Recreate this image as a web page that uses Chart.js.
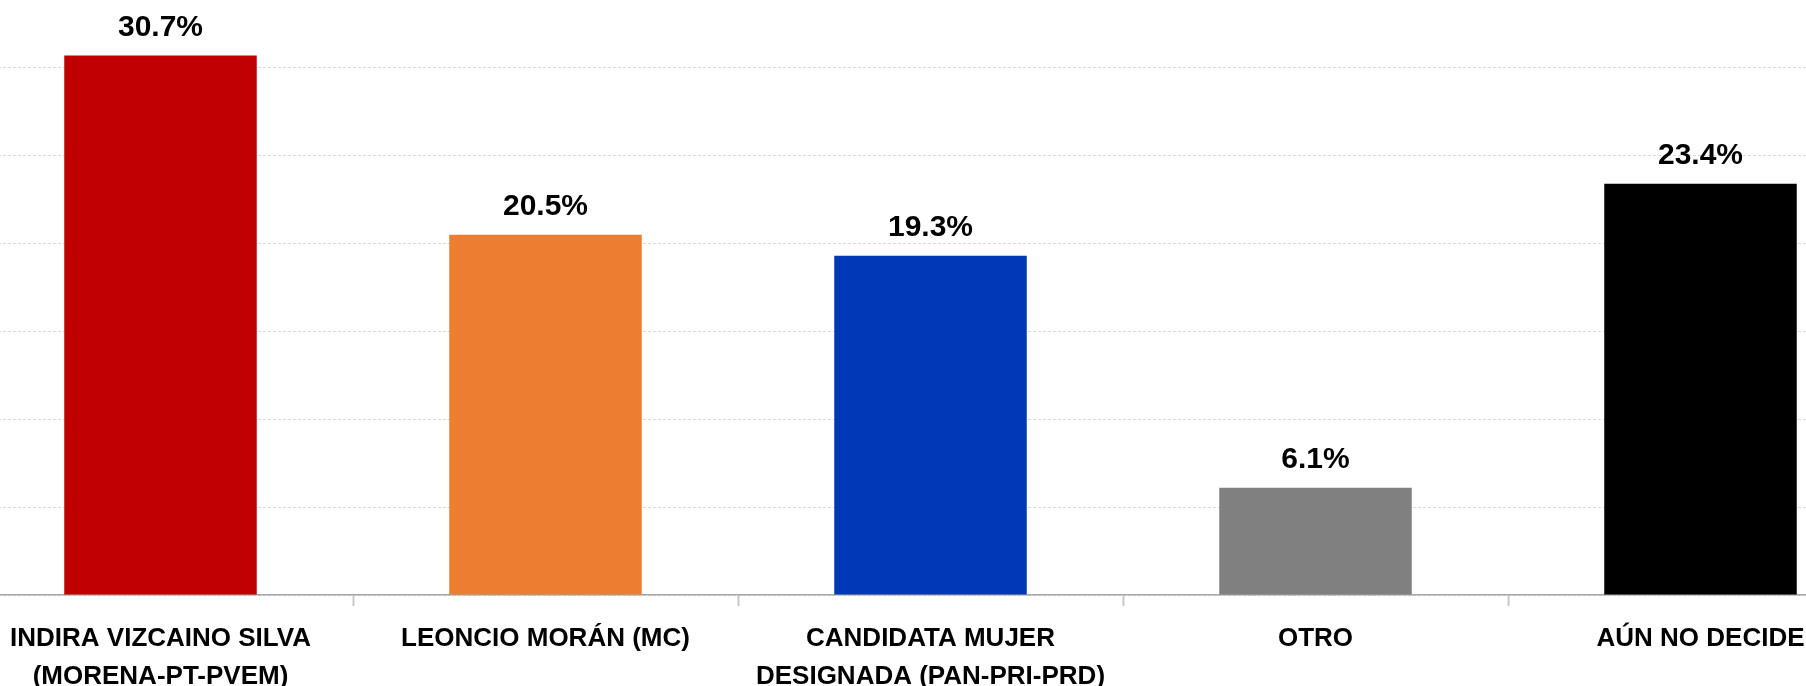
<!DOCTYPE html>
<html>
<head>
<meta charset="utf-8">
<script src="https://cdn.jsdelivr.net/npm/chart.js@4"></script>
<style>
    html, body { margin: 0; padding: 0; background: #fff; }
    #wrap { position: relative; width: 1806px; height: 686px; overflow: hidden; }
    /* el gráfico original está recortado por los bordes: el lienzo sobresale */
    #box { position: absolute; left: -32px; top: -20px; width: 1925px; height: 715px; }
</style>
</head>
<body>
<div id="wrap"><div id="box"><canvas id="votoChart"></canvas></div></div>
<script>
// Datos
const categorias = [
    ['INDIRA VIZCAINO SILVA', '(MORENA-PT-PVEM)'],
    'LEONCIO MORÁN (MC)',
    ['CANDIDATA MUJER', 'DESIGNADA (PAN-PRI-PRD)'],
    'OTRO',
    'AÚN NO DECIDE'
];
const porcentajes = [30.7, 20.5, 19.3, 6.1, 23.4];
const colores = ['#C00000', '#ED7D31', '#0038B8', '#808080', '#000000'];

const FONT = "'Liberation Sans', Arial, sans-serif";

/**
 * Etiquetas de valor encima de cada barra
 */
const etiquetasValor = {
    id: 'etiquetasValor',
    afterDatasetsDraw(chart) {
        const { ctx } = chart;
        const meta = chart.getDatasetMeta(0);
        ctx.save();
        ctx.font = 'bold 30px ' + FONT;
        ctx.fillStyle = '#000';
        ctx.textAlign = 'center';
        ctx.textBaseline = 'alphabetic';
        meta.data.forEach((bar, i) => {
            ctx.fillText(porcentajes[i].toFixed(1) + '%', bar.x, bar.y - 20);
        });
        ctx.restore();
    }
};

new Chart(document.getElementById('votoChart'), {
    type: 'bar',
    data: {
        labels: categorias,
        datasets: [
            {
                data: porcentajes,
                backgroundColor: colores,
                borderWidth: 0,
                barPercentage: 0.5,
                categoryPercentage: 1
            }
        ]
    },
    options: {
        responsive: true,
        maintainAspectRatio: false,
        animation: false,
        layout: { padding: 0, autoPadding: false },
        plugins: {
            legend: { display: false },
            tooltip: { enabled: false }
        },
        scales: {
            x: {
                afterFit: s => { s.height = 100; },
                border: { display: true, color: '#a6a6a6', width: 1.5 },
                grid: {
                    offset: true,
                    drawOnChartArea: false,
                    drawTicks: true,
                    tickLength: 11,
                    tickColor: '#c8c8c8',
                    tickWidth: 2
                },
                ticks: {
                    color: '#000',
                    padding: 14,
                    maxRotation: 0,
                    autoSkip: false,
                    font: { family: FONT, size: 26, weight: 'bold', lineHeight: '38px' }
                }
            },
            y: {
                min: 0,
                max: 35,
                afterFit: s => { s.width = 0; },
                border: { display: false, dash: [3, 2] },
                grid: { color: '#d9d9d9', lineWidth: 1, drawTicks: false },
                ticks: { display: false, stepSize: 5 }
            }
        }
    },
    plugins: [etiquetasValor]
});
</script>
</body>
</html>
